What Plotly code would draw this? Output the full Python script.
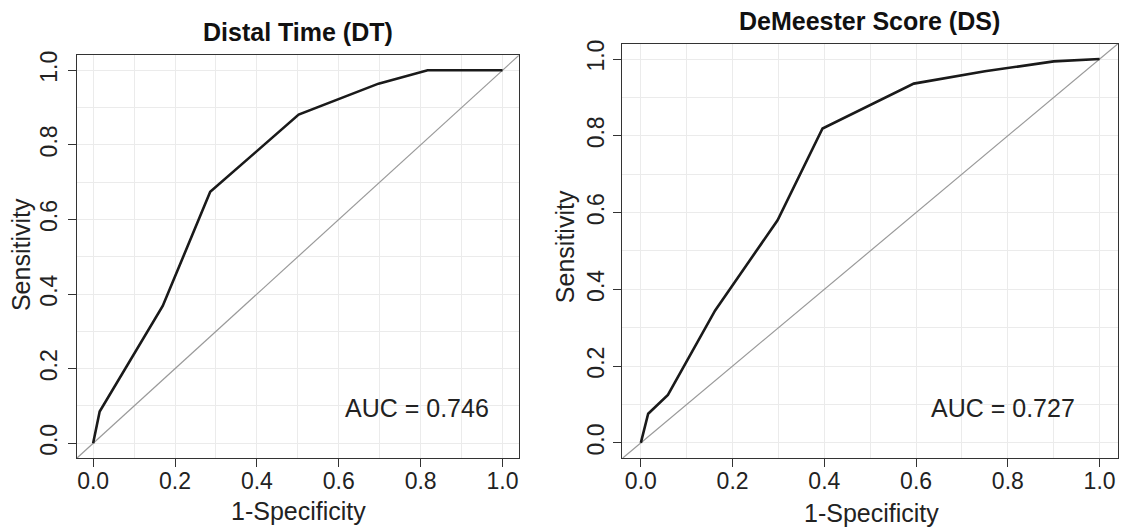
import plotly.graph_objects as go

# ---- data ----
dt_fpr = [0.0, 0.016, 0.170, 0.286, 0.502, 0.697, 0.817, 1.0]
dt_tpr = [0.0, 0.085, 0.368, 0.674, 0.881, 0.964, 1.0, 1.0]
dt_auc = "AUC = 0.746"
dt_title = "Distal Time (DT)"

ds_fpr = [0.0, 0.016, 0.059, 0.162, 0.298, 0.396, 0.595, 0.75, 0.90, 1.0]
ds_tpr = [0.0, 0.076, 0.125, 0.345, 0.580, 0.819, 0.936, 0.968, 0.994, 1.0]
ds_auc = "AUC = 0.727"
ds_title = "DeMeester Score (DS)"

ref_line = [-0.04, 1.04]
tick_vals = [0.0, 0.2, 0.4, 0.6, 0.8, 1.0]
tick_text = ["0.0", "0.2", "0.4", "0.6", "0.8", "1.0"]
x_label = "1-Specificity"
y_label = "Sensitivity"

FONT = "Liberation Sans, Arial, Helvetica, sans-serif"
FRAME = "#333333"
GRID = "#ebebeb"
TXT = "#222222"
TICK_SIZE = 23
LAB_SIZE = 25

fig = go.Figure()

for i, (fx, ty) in enumerate([(dt_fpr, dt_tpr), (ds_fpr, ds_tpr)]):
    xa = "x" if i == 0 else "x2"
    ya = "y" if i == 0 else "y2"
    fig.add_trace(go.Scatter(x=ref_line, y=ref_line, mode="lines", xaxis=xa, yaxis=ya,
                             line=dict(color="#9a9a9a", width=1.2), showlegend=False,
                             hoverinfo="skip"))
    fig.add_trace(go.Scatter(x=fx, y=ty, mode="lines", xaxis=xa, yaxis=ya,
                             line=dict(color="#1a1a1a", width=2.6), showlegend=False))

axis_common = dict(
    range=[-0.04, 1.04], tickmode="array", tickvals=tick_vals, ticktext=tick_text,
    showgrid=True, gridcolor=GRID, gridwidth=1,
    minor=dict(dtick=0.1, tick0=0, showgrid=True, gridcolor=GRID, gridwidth=1, ticks=""),
    showline=True, linecolor=FRAME, linewidth=1.4, mirror=True,
    ticks="outside", ticklen=8, tickwidth=1.2, tickcolor=FRAME,
    tickfont=dict(family=FONT, size=TICK_SIZE, color=TXT),
    zeroline=False, fixedrange=True,
)

fig.update_layout(
    width=1122, height=527,
    margin=dict(l=0, r=0, t=0, b=0),
    paper_bgcolor="white", plot_bgcolor="white",
    xaxis=dict(domain=[0.0684, 0.4625], anchor="y", ticklabelstandoff=-6, **axis_common),
    yaxis=dict(domain=[0.1315, 0.9019], anchor="x", tickangle=-90,
               ticklabelstandoff=1, **axis_common),
    xaxis2=dict(domain=[0.5548, 0.9964], anchor="y2", ticklabelstandoff=-6, **axis_common),
    yaxis2=dict(domain=[0.1315, 0.9241], anchor="x2", tickangle=-90,
                ticklabelstandoff=0, **axis_common),
    font=dict(family=FONT, color=TXT),
)

ann = []
# titles
ann.append(dict(text="<b>%s</b>" % dt_title, x=0.2656, y=1 - 28 / 527, xref="paper", yref="paper",
                showarrow=False, font=dict(size=LAB_SIZE, family=FONT, color="#111111"),
                xanchor="center", yanchor="middle"))
ann.append(dict(text="<b>%s</b>" % ds_title, x=0.7754, y=1 - 17 / 527, xref="paper", yref="paper",
                showarrow=False, font=dict(size=LAB_SIZE, family=FONT, color="#111111"),
                xanchor="center", yanchor="middle"))
# x labels
ann.append(dict(text=x_label, x=0.2656, y=1 - 511 / 527, xref="paper", yref="paper",
                showarrow=False, font=dict(size=LAB_SIZE, family=FONT, color=TXT),
                xanchor="center", yanchor="middle"))
ann.append(dict(text=x_label, x=0.7768, y=1 - 513 / 527, xref="paper", yref="paper",
                showarrow=False, font=dict(size=LAB_SIZE, family=FONT, color=TXT),
                xanchor="center", yanchor="middle"))
# y labels
ann.append(dict(text=y_label, x=21 / 1122, y=1 - 253 / 527, xref="paper", yref="paper",
                showarrow=False, textangle=-90, font=dict(size=LAB_SIZE, family=FONT, color=TXT),
                xanchor="center", yanchor="middle"))
ann.append(dict(text=y_label, x=565 / 1122, y=1 - 245 / 527, xref="paper", yref="paper",
                showarrow=False, textangle=-90, font=dict(size=LAB_SIZE, family=FONT, color=TXT),
                xanchor="center", yanchor="middle"))
# AUC text
ann.append(dict(text=dt_auc, x=0.79, y=0.094, xref="x", yref="y", showarrow=False,
                font=dict(size=LAB_SIZE, family=FONT, color=TXT), xanchor="center", yanchor="middle"))
ann.append(dict(text=ds_auc, x=0.79, y=0.092, xref="x2", yref="y2", showarrow=False,
                font=dict(size=LAB_SIZE, family=FONT, color=TXT), xanchor="center", yanchor="middle"))

fig.update_layout(annotations=ann)
fig.write_html("out.html", config={"displayModeBar": False},
               post_script="document.body.style.margin='0';document.body.style.overflow='hidden';")
